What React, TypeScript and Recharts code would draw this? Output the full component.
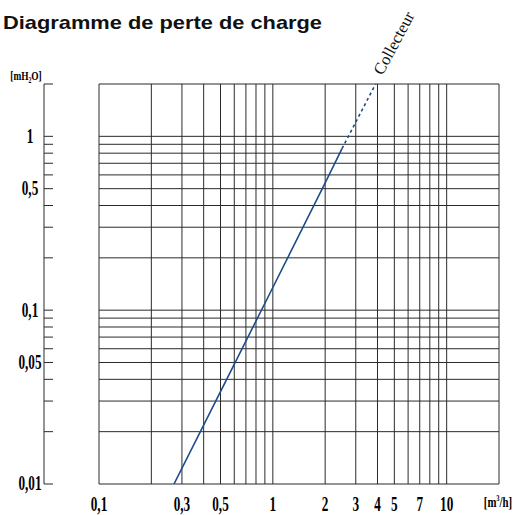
import { LineChart, Line, XAxis, YAxis, CartesianGrid, ReferenceDot } from 'recharts';

// grid positions (log-log), labelled ticks
const flowTicks = [0.1, 0.2, 0.3, 0.4, 0.5, 0.6, 0.7, 0.8, 0.9, 1, 2, 3, 4, 5, 6, 7, 8, 9, 10, 20];
const flowLabels = [0.1, 0.3, 0.5, 1, 2, 3, 4, 5, 7, 10];
const lossTicks = [0.01, 0.02, 0.03, 0.04, 0.05, 0.06, 0.07, 0.08, 0.09, 0.1, 0.2, 0.3, 0.4, 0.5, 0.6, 0.7, 0.8, 0.9, 1, 2];
const lossLabels = [0.01, 0.05, 0.1, 0.5, 1];

// Collecteur curve (m3/h -> mH2O)
const solidFlow = [0.27, 0.5, 1, 2, 2.5];
const solidLoss = [0.01, 0.034, 0.135, 0.54, 0.85];
const dashFlow = [2.5, 3.9];
const dashLoss = [0.85, 2.0];

const solidData = solidFlow.map((q, i) => ({ q, dp: solidLoss[i] }));
const dashData = dashFlow.map((q, i) => ({ q, dp: dashLoss[i] }));

const fmt = (v: number) => String(v).replace('.', ',');
const serif = '"Liberation Serif", "Times New Roman", serif';
const LINE = '#1b4d86';
const GRID = '#2a2a2a';

const CondText = ({ x, y, children, size = 20, anchor = 'middle', baseline }: any) => (
  <text
    transform={`translate(${x},${y}) scale(0.66,1)`}
    textAnchor={anchor}
    dominantBaseline={baseline}
    fontFamily={serif}
    fontWeight="bold"
    fontSize={size}
    fill="#000"
  >
    {children}
  </text>
);

const FlowTick = ({ x, y, payload }: any) => {
  if (!flowLabels.includes(payload.value)) return null;
  return <CondText x={x} y={y + 27}>{fmt(payload.value)}</CondText>;
};

// left scale stands apart from the grid; ticks point right (negative tickSize)
const LossTick = ({ x, y, payload }: any) => {
  if (!lossLabels.includes(payload.value)) return null;
  return <CondText x={Number(x) - 23} y={y} baseline="central">{fmt(payload.value)}</CondText>;
};

const CurveLabel = ({ viewBox }: any) => {
  const { x, y } = viewBox;
  return (
    <text
      transform={`translate(${x + 7},${y - 8}) rotate(-62)`}
      fontFamily={serif}
      fontSize={16.5}
      fill="#111"
    >
      Collecteur
    </text>
  );
};

export default function App() {
  return (
    <div style={{ position: 'absolute', left: 0, top: 0, width: 517, height: 515, background: '#fff' }}>
      <LineChart width={517} height={515} margin={{ top: 84, right: 18, bottom: 0, left: 8 }}>
        <CartesianGrid stroke={GRID} yAxisId="outer" />
        <XAxis
          type="number"
          dataKey="q"
          scale="log"
          domain={[0.1, 20]}
          allowDataOverflow
          ticks={flowTicks}
          interval={0}
          height={31}
          axisLine={false}
          tickLine={false}
          tickSize={0}
          tickMargin={0}
          tick={<FlowTick />}
        />
        <YAxis
          yAxisId="inner"
          type="number"
          scale="log"
          domain={[0.01, 2]}
          allowDataOverflow
          ticks={lossTicks}
          width={55}
          axisLine={false}
          tickLine={false}
          tick={false}
        />
        <YAxis
          yAxisId="outer"
          type="number"
          scale="log"
          domain={[0.01, 2]}
          allowDataOverflow
          ticks={lossTicks}
          interval={0}
          width={36}
          axisLine={{ stroke: GRID }}
          tickLine={{ stroke: GRID }}
          tickSize={-9}
          tickMargin={0}
          tick={<LossTick />}
        />
        <Line
          yAxisId="inner"
          data={solidData}
          dataKey="dp"
          stroke={LINE}
          strokeWidth={1.6}
          dot={false}
          isAnimationActive={false}
        />
        <Line
          yAxisId="inner"
          data={dashData}
          dataKey="dp"
          stroke={LINE}
          strokeWidth={1.6}
          strokeDasharray="3 3"
          dot={false}
          isAnimationActive={false}
        />
        <ReferenceDot
          yAxisId="inner"
          x={3.9}
          y={2}
          r={0}
          ifOverflow="visible"
          label={<CurveLabel />}
        />
      </LineChart>
      <svg width={517} height={515} style={{ position: 'absolute', left: 0, top: 0, pointerEvents: 'none' }}>
        <text x={3} y={29} fontFamily='"Liberation Sans", Arial, sans-serif' fontWeight="bold" fontSize={19} fill="#111" textLength={319} lengthAdjust="spacingAndGlyphs">
          Diagramme de perte de charge
        </text>
        <g transform="translate(26,80) scale(0.72,1)">
          <text textAnchor="middle" fontFamily={serif} fontWeight="bold" fontSize={13} fill="#000">
            [mH<tspan fontSize={8} dy={3}>2</tspan><tspan dy={-3}>O]</tspan>
          </text>
        </g>
        <g transform="translate(498,507) scale(0.72,1)">
          <text textAnchor="middle" fontFamily={serif} fontWeight="bold" fontSize={15} fill="#000">
            [m<tspan fontSize={9} dy={-6}>3</tspan><tspan dy={6}>/h]</tspan>
          </text>
        </g>
      </svg>
    </div>
  );
}
